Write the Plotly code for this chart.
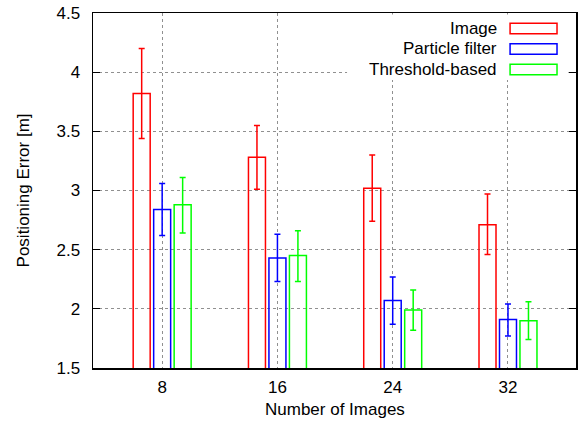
import plotly.graph_objects as go

categories = ["8", "16", "24", "32"]
series_names = ["Image", "Particle filter", "Threshold-based"]
image_vals = [3.82, 3.28, 3.02, 2.71]
image_hi = [4.20, 3.55, 3.30, 2.97]
image_lo = [3.44, 3.01, 2.74, 2.46]
pf_vals = [2.84, 2.43, 2.07, 1.91]
pf_hi = [3.06, 2.63, 2.27, 2.04]
pf_lo = [2.62, 2.23, 1.87, 1.77]
th_vals = [2.88, 2.45, 1.99, 1.90]
th_hi = [3.11, 2.66, 2.16, 2.06]
th_lo = [2.64, 2.23, 1.82, 1.74]
y_ticks = [1.5, 2, 2.5, 3, 3.5, 4, 4.5]

colors = ["#ff0000", "#0000ff", "#00ff00"]
FONT = "Liberation Sans, Arial, sans-serif"
FS = 17

fig = go.Figure()
all_series = [(image_vals, image_hi, image_lo), (pf_vals, pf_hi, pf_lo), (th_vals, th_hi, th_lo)]
for name, (vals, hi, lo), c in zip(series_names, all_series, colors):
    fig.add_trace(go.Bar(
        x=categories, y=vals, name=name,
        marker=dict(color="rgba(0,0,0,0)", line=dict(color=c, width=1.5)),
        error_y=dict(type="data", symmetric=False,
                     array=[h - v for h, v in zip(hi, vals)],
                     arrayminus=[v - l for v, l in zip(vals, lo)],
                     color=c, thickness=1.5, width=3),
        showlegend=False,
    ))

# custom legend (text left of sample box, like gnuplot)
shapes = [dict(type="rect", xref="paper", yref="paper", x0=0.526, x1=0.984, y0=0.811, y1=0.996,
               fillcolor="white", line=dict(width=0), layer="above")]
annotations = []
row_centers = [0.9563, 0.8986, 0.8408]
for name, c, yc in zip(series_names, colors, row_centers):
    shapes.append(dict(type="rect", xref="paper", yref="paper", x0=0.8635, x1=0.9607,
                       y0=yc - 0.0145, y1=yc + 0.0145, fillcolor="rgba(0,0,0,0)",
                       line=dict(color=c, width=1.5), layer="above"))
    annotations.append(dict(xref="paper", yref="paper", x=0.8407, y=yc, text=name,
                            xanchor="right", yanchor="middle", showarrow=False,
                            font=dict(family=FONT, size=FS, color="black")))

annotations.append(dict(xref="paper", yref="paper", x=0.5, y=-0.1183, text="Number of Images",
                        xanchor="center", yanchor="middle", showarrow=False,
                        font=dict(family=FONT, size=FS, color="black")))
annotations.append(dict(xref="paper", yref="paper", x=-0.143, y=0.5, text="Positioning Error [m]",
                        xanchor="center", yanchor="middle", showarrow=False, textangle=-90,
                        font=dict(family=FONT, size=FS, color="black")))

fig.update_layout(
    width=580, height=422,
    margin=dict(l=92.5, r=4, t=13, b=54),
    paper_bgcolor="white", plot_bgcolor="white",
    barmode="group", bargap=0.467, bargroupgap=0.17,
    font=dict(family=FONT, size=FS, color="black"),
    shapes=shapes, annotations=annotations,
)
fig.update_xaxes(
    type="category", range=[-0.6, 3.59], automargin=False,
    showline=True, linecolor="black", linewidth=1.5, mirror="ticks",
    ticks="", showgrid=True, gridcolor="#909090", griddash="dot", gridwidth=1,
    ticklabelstandoff=3, tickfont=dict(family=FONT, size=FS, color="black"),
)
fig.update_yaxes(
    range=[1.5, 4.5], tickvals=y_ticks, ticktext=[f"{v:g}" for v in y_ticks],
    automargin=False,
    showline=True, linecolor="black", linewidth=1.5, mirror="ticks",
    ticks="inside", ticklen=7, tickcolor="black", tickwidth=1,
    showgrid=True, gridcolor="#909090", griddash="dot", gridwidth=1,
    ticklabelstandoff=8, tickfont=dict(family=FONT, size=FS, color="black"),
    zeroline=False,
)

fig.write_html("out.html", config={"displayModeBar": False, "staticPlot": True},
               post_script="document.body.style.margin='0px';document.body.style.overflow='hidden';")
